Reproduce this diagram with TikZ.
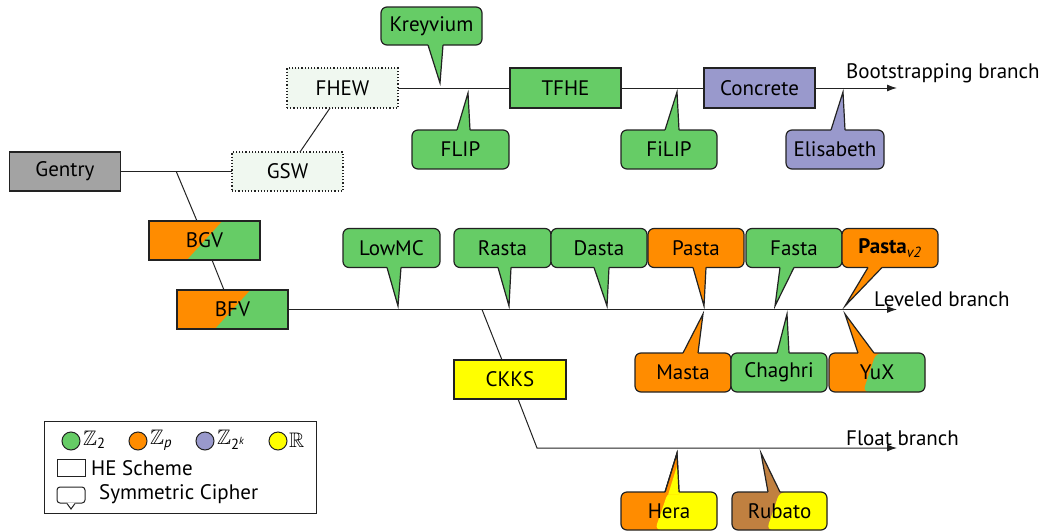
\documentclass[tikz,border=0pt]{standalone}
\usepackage{amssymb}
\usepackage{fontspec}
\setmainfont{PT Sans}
\usetikzlibrary{arrows.meta,calc}
\definecolor{cgreen}{HTML}{66CC66}
\definecolor{corange}{HTML}{FF8C00}
\definecolor{cpurple}{HTML}{9999CC}
\definecolor{cyellow}{HTML}{FFFF00}
\definecolor{cbrown}{HTML}{C08040}
\definecolor{cgray}{HTML}{A3A3A3}
\definecolor{cline}{HTML}{222222}
\definecolor{cpale}{HTML}{F0F8F0}
\newcommand\ptr[7]{%
  \path (#3,0 |- #1.#2) coordinate (pa) (#4,0 |- #1.#2) coordinate (pb);
  \fill[#6] ($(pa)+(0,#7)$) -- (pa) -- (#5) -- (pb) -- ($(pb)+(0,#7)$) -- cycle;
  \draw[outline] (pa) -- (#5) -- (pb);
}
\begin{document}
\begin{tikzpicture}[x=1pt,y=-1pt,
  every node/.style={font=\fontsize{21}{24}\selectfont, text=black},
  outline/.style={draw=cline, line width=1.2pt, line join=miter},
  scheme/.style={outline, outer sep=0pt, inner sep=0pt, minimum width=111pt, minimum height=39pt},
  hebox/.style={scheme, dotted, fill=cpale},
  cipher/.style={outline, outer sep=0pt, inner sep=0pt, rounded corners=6pt, minimum width=97pt, minimum height=39pt},
  link/.style={draw=cline, line width=1pt},
  branch/.style={link, -{Latex[length=10pt,width=7pt]}},
  lbl/.style={anchor=west, inner sep=0pt},
  split/.style 2 args={path picture={
    \fill[#2] ($(path picture bounding box.south west)!#1!(path picture bounding box.south east)$)
      -- ($(path picture bounding box.north west)!#1+0.32!(path picture bounding box.north east)$)
      -- (path picture bounding box.north east) -- (path picture bounding box.south east) -- cycle;}},
  splitb/.style 2 args={path picture={
    \fill[#2] ($(path picture bounding box.south west)!#1!(path picture bounding box.south east)$)
      -- ($(path picture bounding box.north west)!#1+0.136!(path picture bounding box.north east)$)
      -- (path picture bounding box.north east) -- (path picture bounding box.south east) -- cycle;}},
]
\useasboundingbox (0,0) rectangle (1043,530);

% ---------- HE schemes ----------
\node[scheme, fill=cgray] (gentry) at (65,171.5) {Gentry};
\node[hebox] (gsw) at (287.5,171.5) {GSW};
\node[hebox, minimum height=40pt] (fhew) at (342.5,88) {FHEW};
\node[scheme, fill=cgreen, minimum height=40pt] (tfhe) at (565.5,88) {TFHE};
\node[scheme, fill=cpurple, minimum height=40pt] (concrete) at (759.5,88) {Concrete};
\node[scheme, fill=corange, split={0.342}{cgreen}] (bgv) at (204.5,240.5) {BGV};
\node[scheme, fill=corange, split={0.342}{cgreen}] (bfv) at (232.5,309.5) {BFV};
\node[scheme, fill=cyellow, minimum width=112pt] (ckks) at (510,379.5) {CKKS};

% ---------- branch ends ----------
\coordinate (bootend) at (897,88);
\coordinate (levend) at (897,309.5);
\coordinate (fltend) at (897,448);
\coordinate (fltknee) at (537,448);
\coordinate (gj) at ($(gentry.east)!0.5!(gsw.west)$);
\coordinate (lj) at (482,309.5);

% ---------- connectors ----------
\draw[link] (gentry.east) -- (gsw.west);
\draw[link] (gj) -- (197,0 |- bgv.north);
\draw[link] (212,0 |- bgv.south) -- (224,0 |- bfv.north);
\draw[link] (330,0 |- fhew.south) -- (300,0 |- gsw.north);
\draw[link] (fhew.east) -- (tfhe.west);
\draw[link] (tfhe.east) -- (concrete.west);
\draw[branch] (concrete.east) -- (bootend);
\draw[branch] (bfv.east) -- (levend);
\draw[link] (lj) -- (502,0 |- ckks.north);
\draw[branch] (518,0 |- ckks.south) -- (fltknee) -- (fltend);

\node[lbl] (lboot) at (846,73) {Bootstrapping branch};
\node[lbl] (llev) at (874,299) {Leveled branch};
\node[lbl] (lflt) at (846,438) {Float branch};

% ---------- tips ----------
\coordinate (tkrey) at (440,83);
\coordinate (tflip) at (468,93);
\coordinate (tfilip) at (677,92);
\coordinate (teli) at (843,92);
\coordinate (tlow) at (398,306);
\coordinate (trasta) at (509,306);
\coordinate (tdasta) at (607,306);
\coordinate (tpasta) at (704,306);
\coordinate (tfasta) at (775,306);
\coordinate (tpv) at (845,306);
\coordinate (tmasta) at (703,314);
\coordinate (tchag) at (787,314);
\coordinate (tyux) at (845,314);
\coordinate (thera) at (677,453);
\coordinate (trub) at (761,453);

% ---------- ciphers ----------
\node[cipher, fill=cgreen, minimum width=101pt, minimum height=38pt] (krey) at (431.5,26) {Kreyvium};
\ptr{krey}{south}{428}{443}{tkrey}{cgreen}{-2}
\node[cipher, fill=cgreen] (flip) at (460.5,149.5) {FLIP};
\ptr{flip}{north}{457}{470}{tflip}{cgreen}{2}
\node[cipher, fill=cgreen, minimum width=96pt] (filip) at (669,149.5) {FiLIP};
\ptr{filip}{north}{665}{679}{tfilip}{cgreen}{2}
\node[cipher, fill=cpurple, minimum width=98pt] (eli) at (835,149.5) {Elisabeth};
\ptr{eli}{north}{831}{845}{teli}{cpurple}{2}

\node[cipher, fill=cgreen] (lowmc) at (391.5,248) {LowMC};
\ptr{lowmc}{south}{387}{401}{tlow}{cgreen}{-2}
\node[cipher, fill=cgreen] (rasta) at (502.5,248) {Rasta};
\ptr{rasta}{south}{498}{511}{trasta}{cgreen}{-2}
\node[cipher, fill=cgreen, minimum width=96pt] (dasta) at (599,248) {Dasta};
\ptr{dasta}{south}{594}{609}{tdasta}{cgreen}{-2}
\node[cipher, fill=corange, minimum width=96pt] (pasta) at (696,248) {Pasta};
\ptr{pasta}{south}{693}{706}{tpasta}{corange}{-2}
\node[cipher, fill=cgreen, minimum width=96pt] (fasta) at (794,248) {Fasta};
\ptr{fasta}{south}{780}{794}{tfasta}{cgreen}{-2}
\node[cipher, fill=corange, minimum width=96pt] (pastav) at (890,248) {\textbf{Pasta}\textsubscript{\itshape v2}};
\ptr{pastav}{south}{868}{882}{tpv}{corange}{-2}

\node[cipher, fill=corange, minimum width=96pt] (masta) at (683,372.5) {Masta};
\ptr{masta}{north}{683}{698}{tmasta}{corange}{2}
\node[cipher, fill=cgreen, minimum width=96pt] (chag) at (779,372.5) {Chaghri};
\ptr{chag}{north}{777}{789}{tchag}{cgreen}{2}
\node[cipher, fill=corange, minimum width=96pt, splitb={0.354}{cgreen}] (yux) at (877,372.5) {YuX};
\ptr{yux}{north}{858}{874}{tyux}{corange}{2}

\node[cipher, fill=corange, minimum width=96pt, minimum height=38pt, splitb={0.354}{cyellow}] (hera) at (669,511) {Hera};
\ptr{hera}{north}{665}{679}{thera}{corange}{2}
\begin{scope}
  \clip (668,495) -- (681,453) -- (700,453) -- (700,495) -- cycle;
  \fill[cyellow] ($(pa)+(0,2)$) -- (pa) -- (thera) -- (pb) -- ($(pb)+(0,2)$) -- cycle;
\end{scope}
\draw[outline] (pa) -- (thera) -- (pb);
\node[cipher, fill=cbrown, minimum width=95pt, minimum height=38pt, splitb={0.365}{cyellow}] (rub) at (779.5,511) {Rubato};
\ptr{rub}{north}{768}{780}{trub}{cbrown}{2}

% ---------- legend ----------
\node[draw=cline, line width=1pt, inner sep=0pt, minimum width=272pt, minimum height=92pt] (legend) at (180,467) {};
\node[circle, draw=cline, line width=1pt, fill=cgreen, minimum size=18pt, inner sep=0pt] (lg1) at (71,441) {};
\node[lbl] (lgt1) at (83,440) {$\mathbb{Z}$\textsubscript{2}};
\node[circle, draw=cline, line width=1pt, fill=corange, minimum size=18pt, inner sep=0pt] (lg2) at (138,441) {};
\node[lbl] (lgt2) at (150,440) {$\mathbb{Z}$\textsubscript{\itshape p}};
\node[circle, draw=cline, line width=1pt, fill=cpurple, minimum size=18pt, inner sep=0pt] (lg3) at (205,441) {};
\node[lbl] (lgt3) at (217,440) {$\mathbb{Z}$\textsubscript{2\textsuperscript{\itshape k}}};
\node[circle, draw=cline, line width=1pt, fill=cyellow, minimum size=18pt, inner sep=0pt] (lg4) at (278,441) {};
\node[lbl] (lgt4) at (289,440) {$\mathbb{R}$};
\node[draw=cline, line width=1pt, inner sep=0pt, minimum width=28pt, minimum height=17pt] (lgs) at (71,468) {};
\node[lbl] (lgst) at (91,468) {HE Scheme};
\node[draw=cline, line width=1pt, inner sep=0pt, rounded corners=3pt, minimum width=28pt, minimum height=16pt] (lgc) at (71,495) {};
\coordinate (lgtip) at (71,509);
\fill[white] ($(67,0 |- lgc.south)+(0,-1)$) -- (67,0 |- lgc.south) -- (lgtip) -- (75,0 |- lgc.south) -- ($(75,0 |- lgc.south)+(0,-1)$) -- cycle;
\draw[draw=cline, line width=1pt] (67,0 |- lgc.south) -- (lgtip) -- (75,0 |- lgc.south);
\node[lbl] (lgct) at (99,494) {Symmetric Cipher};
\end{tikzpicture}
\end{document}
